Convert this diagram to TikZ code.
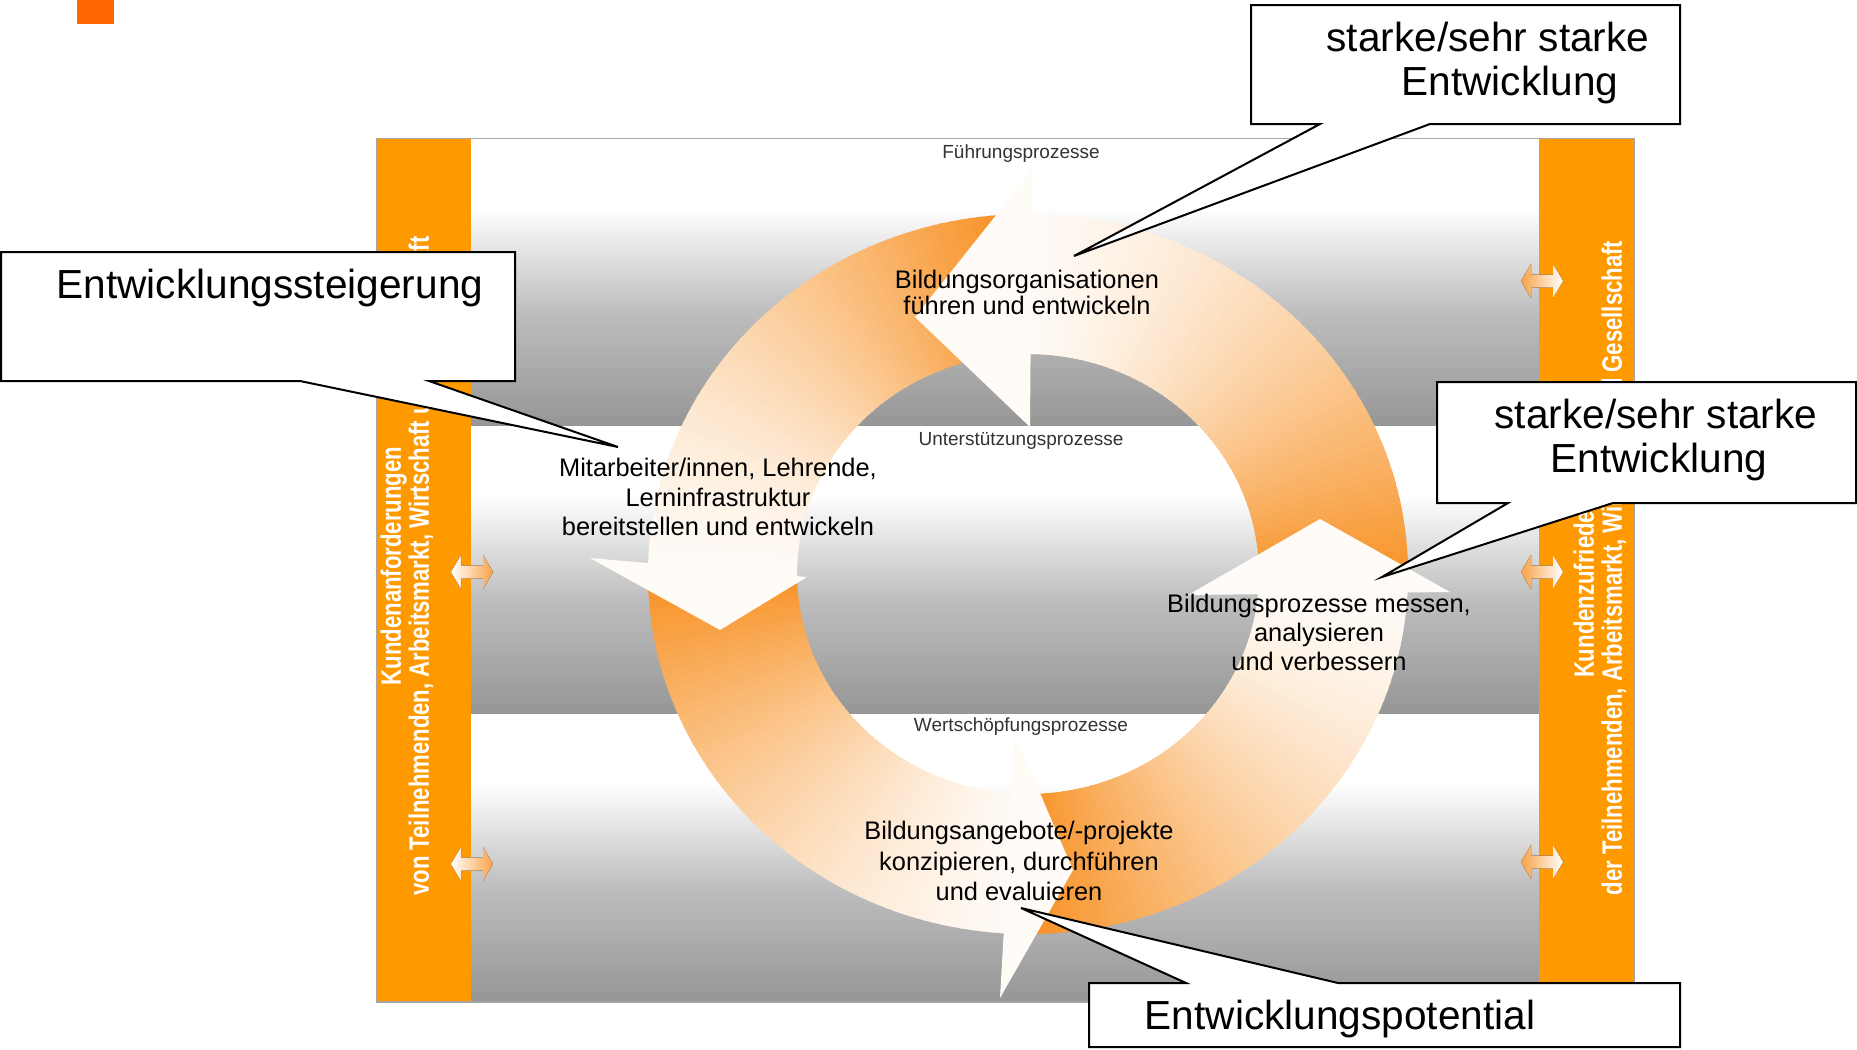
\documentclass[tikz,border=0pt]{standalone}
\usepackage{fontspec}
\setmainfont{Liberation Sans}
\newfontfamily\barfont[FakeStretch=0.79]{Liberation Sans}
\definecolor{barorange}{RGB}{255,153,0}
\definecolor{ringorange}{RGB}{247,146,38}
\definecolor{bandgray}{RGB}{150,150,150}
\definecolor{bandmid}{RGB}{190,190,190}
\definecolor{squareorange}{RGB}{255,102,0}
\pgfdeclareverticalshading{bandshade}{100bp}{color(0bp)=(bandgray); color(25bp)=(bandgray); color(45bp)=(bandmid); color(63bp)=(white); color(100bp)=(white)}
% ring body with angular gradient: #1 tail angle, #2 head-back angle
\newcommand\ringbody[2]{%
  \foreach \i in {0,...,59}{%
    \pgfmathsetmacro\ta{#1+(#2-#1)*\i/60}%
    \pgfmathsetmacro\tb{#1+(#2-#1)*min(\i+1.6,60)/60}%
    \pgfmathsetmacro\pc{4+96*(1-(\i+0.5)/60)^1.5}%
    \fill[ringorange!\pc!white]
      ({1028+380*cos(\ta)},{574+360*sin(\ta)})
      arc[start angle=\ta, end angle=\tb, x radius=380, y radius=360]
      -- ({1028+231*cos(\tb)},{574+220*sin(\tb)})
      arc[start angle=\tb, end angle=\ta, x radius=231, y radius=220]
      -- cycle;
  }%
}
\newcommand\dblarr[3]{%
  \begin{scope}[shift={(#1,#2)}]
    \fill[#3] (-21,0) -- (-11,-17) -- (-11,-6.5) -- (11,-6.5) -- (11,-17) -- (21,0)
      -- (11,17) -- (11,6.5) -- (-11,6.5) -- (-11,17) -- cycle;
  \end{scope}}
\begin{document}
\begin{tikzpicture}[x=0.5pt,y=-0.5pt,
  bandlabel/.style={font=\fontsize{9.5}{11}\selectfont, text=black!80, inner sep=0, anchor=base},
  ringlabel/.style={align=center, inner sep=0, text=black},
  calltext/.style={font=\fontsize{20.3}{22}\selectfont, inner sep=0, align=center},
  callbox/.style={draw=black, fill=white, line width=1pt},
  bartext/.style={rotate=90, align=center, text=white, inner sep=0,
    font=\barfont\bfseries\fontsize{14}{14}\selectfont},
  headshape/.style={fill=ringorange!4!white},
  arrL/.style={left color=white, right color=ringorange!85},
  arrR/.style={left color=ringorange!85, right color=white}]
\useasboundingbox (0,0) rectangle (1857,1049);
\fill[white] (0,0) rectangle (1857,1049);
% small square
\fill[squareorange] (77,0) rectangle (114,24);
% bands
\fill[shading=bandshade] (471,138.5) rectangle (1539,426);
\fill[shading=bandshade] (471,426) rectangle (1539,714);
\fill[shading=bandshade] (471,714) rectangle (1539,1002);
% side bars
\fill[barorange] (376.5,138.5) rectangle (471,1002);
\fill[barorange] (1539,138.5) rectangle (1634,1002);
\node[bartext] (barL) at (407,566) {Kundenanforderungen\\von Teilnehmenden, Arbeitsmarkt, Wirtschaft und Gesellschaft};
\node[bartext] (barR) at (1600,568) {Kundenzufriedenheit\\der Teilnehmenden, Arbeitsmarkt, Wirtschaft und Gesellschaft};
% double arrows
\dblarr{472}{572}{arrL}
\dblarr{472}{864}{arrL}
\dblarr{1542}{281}{arrR}
\dblarr{1542}{572}{arrR}
\dblarr{1542}{862}{arrR}
% frame
\draw[black!35, line width=0.75pt] (376.5,138.5) rectangle (1634,1002);
% ring bodies
\ringbody{1}{-92}
\ringbody{266}{179.5}
\ringbody{179}{90}
\ringbody{89}{2}
% heads
\fill[headshape] (1032,170) -- (915,317) -- (1030,427) -- cycle;
\fill[headshape] (590,558) -- (720,630) -- (807,577) -- cycle;
\fill[headshape] (1015,735) -- (1073,870) -- (1000,998) -- cycle;
\fill[headshape] (1188,595) -- (1320,519) -- (1450,592) -- cycle;
% band labels
\node[bandlabel] (bandF) at (1021,158) {Führungsprozesse};
\node[bandlabel] (bandU) at (1021,445) {Unterstützungsprozesse};
\node[bandlabel] (bandW) at (1021,731) {Wertschöpfungsprozesse};
% ring labels
\node[ringlabel, font=\fontsize{12.7}{13}\selectfont] (labT) at (1027,292) {Bildungsorganisationen\\führen und entwickeln};
\node[ringlabel, font=\fontsize{12.7}{14.75}\selectfont] (labL) at (718,497) {Mitarbeiter/innen, Lehrende,\\Lerninfrastruktur\\bereitstellen und entwickeln};
\node[ringlabel, font=\fontsize{12.7}{14.5}\selectfont] (labR) at (1319,632) {Bildungsprozesse messen,\\analysieren\\und verbessern};
\node[ringlabel, font=\fontsize{12.7}{15.2}\selectfont] (labB) at (1019,861) {Bildungsangebote/-projekte\\konzipieren, durchführen\\und evaluieren};
% callouts
\coordinate (tipT) at (1074,256);
\coordinate (tipL) at (618,447);
\coordinate (tipR) at (1382,577);
\coordinate (tipB) at (1021,908);
\draw[callbox] (1251,5) -- (1680,5) -- (1680,124) -- (1430,124) -- (tipT) -- (1320,124) -- (1251,124) -- cycle;
\draw[callbox] (1,252) -- (515,252) -- (515,381) -- (429,381) -- (tipL) -- (300,381) -- (1,381) -- cycle;
\draw[callbox] (1437,382) -- (1856,382) -- (1856,503) -- (1613,503) -- (tipR) -- (1508,503) -- (1437,503) -- cycle;
\draw[callbox] (1089,983) -- (1186,983) -- (tipB) -- (1338,983) -- (1680,983) -- (1680,1047) -- (1089,1047) -- cycle;
\node[calltext] (cT) at (1488,63) {starke/sehr starke\\\hspace*{22pt}Entwicklung};
\node[calltext, anchor=base] (cL) at (270,298) {Entwicklungssteigerung};
\node[calltext] (cR) at (1656,440) {starke/sehr starke\\\hspace*{3pt}Entwicklung};
\node[calltext, anchor=base] (cB) at (1340,1029) {Entwicklungspotential};
\end{tikzpicture}
\end{document}
